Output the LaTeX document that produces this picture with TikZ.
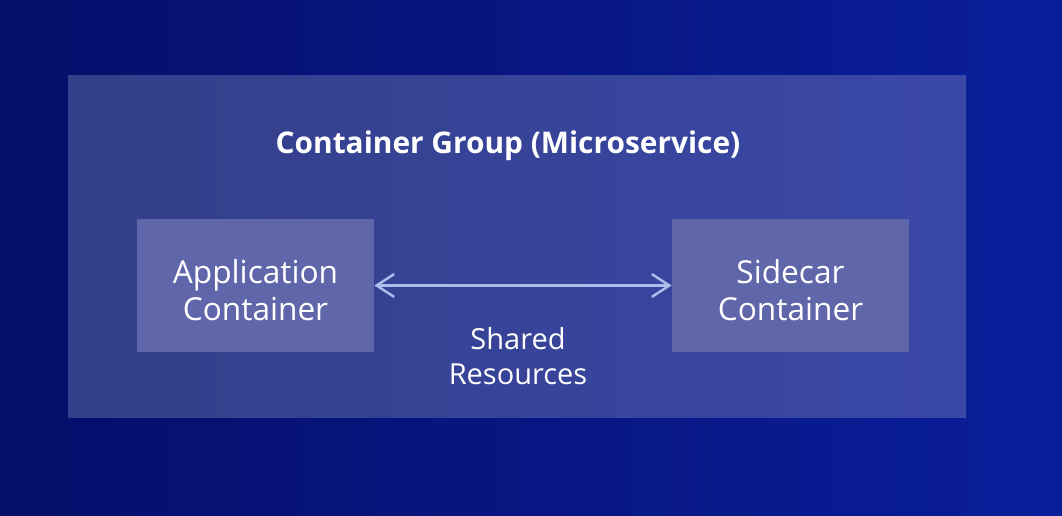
\documentclass[tikz,border=0pt]{standalone}
\usepackage{fontspec}
\setmainfont{Open Sans}
\usepackage{tikz}
\usetikzlibrary{arrows.meta}

\definecolor{bgleft}{RGB}{5,14,105}
\definecolor{bgright}{RGB}{9,30,155}
\definecolor{groupleft}{RGB}{51,63,136}
\definecolor{groupright}{RGB}{58,72,168}
\definecolor{boxfill}{RGB}{96,102,170}
\definecolor{arrowcol}{RGB}{170,190,236}

\begin{document}
\begin{tikzpicture}[x=0.02cm,y=-0.02cm,
    box/.style={fill=boxfill,minimum width=4.74cm,minimum height=2.68cm,
        align=center,text=white,font=\fontsize{18}{21.5}\selectfont},
    arr/.style={arrowcol,line width=1.4pt,{Straight Barb[length=10pt,width=13pt]}-{Straight Barb[length=10pt,width=13pt]}}]
    % background and group
    \shade[left color=bgleft,right color=bgright] (0,0) rectangle (1062,516);
    \useasboundingbox (0,0) rectangle (1062,516);
    \shade[left color=groupleft,right color=groupright] (68,76) rectangle (966,418);
    \node at (508,146) (group) {\fontsize{17}{20}\selectfont\bfseries\color{white} Container Group (Microservice)};

    \node[box] at (255.5,285.5) (app) {\rule{0pt}{19pt}Application\\Container};
    \node[box] at (790.5,285.5) (sidecar) {\rule{0pt}{19pt}Sidecar\\Container};
    \draw[arr] (app.east) -- (sidecar.west);
    \node[align=center,text=white,font=\fontsize{16.5}{20}\selectfont] at (518,356) (shared) {Shared\\Resources};
\end{tikzpicture}
\end{document}
